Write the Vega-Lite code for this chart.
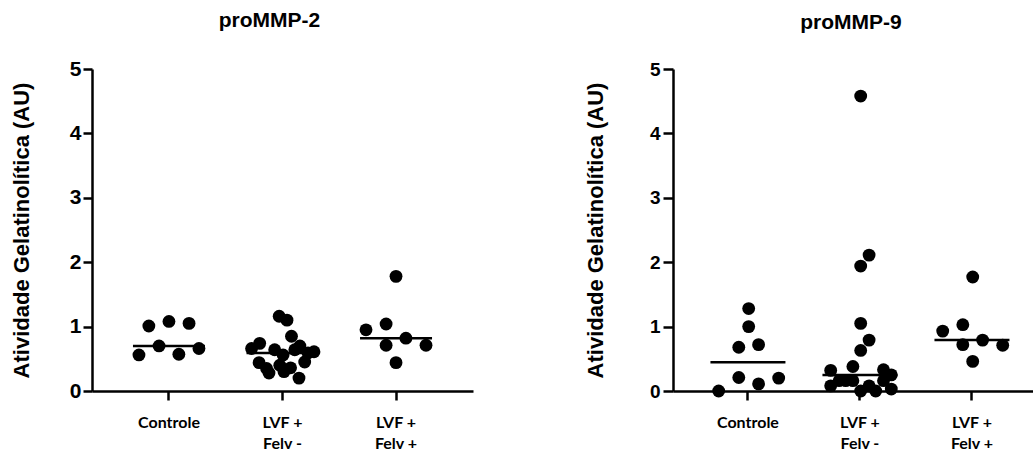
{
  "$schema": "https://vega.github.io/schema/vega-lite/v6.json",
  "background": "white",
  "padding": {"left": 10, "top": 10, "right": 0, "bottom": 0},
  "config": {"view": {"stroke": null}, "concat": {"spacing": 111}},
  "datasets": {
    "d": [
      {"p": "proMMP-2", "g": "Controle", "s": -1, "v": 0.56},
      {"p": "proMMP-2", "g": "Controle", "s": -0.67, "v": 1.01},
      {"p": "proMMP-2", "g": "Controle", "s": -0.33, "v": 0.70},
      {"p": "proMMP-2", "g": "Controle", "s": 0, "v": 1.08},
      {"p": "proMMP-2", "g": "Controle", "s": 0.33, "v": 0.57},
      {"p": "proMMP-2", "g": "Controle", "s": 0.67, "v": 1.05},
      {"p": "proMMP-2", "g": "Controle", "s": 1, "v": 0.66},
      {"p": "proMMP-2", "g": "LVF + Felv -", "s": -0.11, "v": 1.16},
      {"p": "proMMP-2", "g": "LVF + Felv -", "s": 0.15, "v": 1.10},
      {"p": "proMMP-2", "g": "LVF + Felv -", "s": 0.3, "v": 0.85},
      {"p": "proMMP-2", "g": "LVF + Felv -", "s": -1.03, "v": 0.66},
      {"p": "proMMP-2", "g": "LVF + Felv -", "s": -0.76, "v": 0.74},
      {"p": "proMMP-2", "g": "LVF + Felv -", "s": -0.26, "v": 0.64},
      {"p": "proMMP-2", "g": "LVF + Felv -", "s": 0.02, "v": 0.56},
      {"p": "proMMP-2", "g": "LVF + Felv -", "s": 0.58, "v": 0.70},
      {"p": "proMMP-2", "g": "LVF + Felv -", "s": 0.85, "v": 0.59},
      {"p": "proMMP-2", "g": "LVF + Felv -", "s": 1.05, "v": 0.61},
      {"p": "proMMP-2", "g": "LVF + Felv -", "s": -0.78, "v": 0.44},
      {"p": "proMMP-2", "g": "LVF + Felv -", "s": -0.53, "v": 0.35},
      {"p": "proMMP-2", "g": "LVF + Felv -", "s": -0.45, "v": 0.28},
      {"p": "proMMP-2", "g": "LVF + Felv -", "s": -0.09, "v": 0.40},
      {"p": "proMMP-2", "g": "LVF + Felv -", "s": 0.05, "v": 0.30},
      {"p": "proMMP-2", "g": "LVF + Felv -", "s": 0.27, "v": 0.36},
      {"p": "proMMP-2", "g": "LVF + Felv -", "s": 0.55, "v": 0.20},
      {"p": "proMMP-2", "g": "LVF + Felv -", "s": 0.74, "v": 0.45},
      {"p": "proMMP-2", "g": "LVF + Felv -", "s": 0.41, "v": 0.64},
      {"p": "proMMP-2", "g": "LVF + Felv +", "s": -1, "v": 0.95},
      {"p": "proMMP-2", "g": "LVF + Felv +", "s": -0.33, "v": 1.04},
      {"p": "proMMP-2", "g": "LVF + Felv +", "s": -0.33, "v": 0.71},
      {"p": "proMMP-2", "g": "LVF + Felv +", "s": 0, "v": 1.78},
      {"p": "proMMP-2", "g": "LVF + Felv +", "s": 0, "v": 0.44},
      {"p": "proMMP-2", "g": "LVF + Felv +", "s": 0.33, "v": 0.82},
      {"p": "proMMP-2", "g": "LVF + Felv +", "s": 1, "v": 0.71},
      {"p": "proMMP-9", "g": "Controle", "s": -1, "v": 0.0},
      {"p": "proMMP-9", "g": "Controle", "s": -0.33, "v": 0.21},
      {"p": "proMMP-9", "g": "Controle", "s": 0.33, "v": 0.11},
      {"p": "proMMP-9", "g": "Controle", "s": 1, "v": 0.20},
      {"p": "proMMP-9", "g": "Controle", "s": -0.33, "v": 0.68},
      {"p": "proMMP-9", "g": "Controle", "s": 0.33, "v": 0.72},
      {"p": "proMMP-9", "g": "Controle", "s": 0, "v": 1.00},
      {"p": "proMMP-9", "g": "Controle", "s": 0, "v": 1.28},
      {"p": "proMMP-9", "g": "LVF + Felv -", "s": 0, "v": 4.58},
      {"p": "proMMP-9", "g": "LVF + Felv -", "s": 0.28, "v": 2.11},
      {"p": "proMMP-9", "g": "LVF + Felv -", "s": 0, "v": 1.94},
      {"p": "proMMP-9", "g": "LVF + Felv -", "s": 0, "v": 1.05},
      {"p": "proMMP-9", "g": "LVF + Felv -", "s": 0.28, "v": 0.79},
      {"p": "proMMP-9", "g": "LVF + Felv -", "s": 0, "v": 0.63},
      {"p": "proMMP-9", "g": "LVF + Felv -", "s": -1, "v": 0.32},
      {"p": "proMMP-9", "g": "LVF + Felv -", "s": -0.26, "v": 0.38},
      {"p": "proMMP-9", "g": "LVF + Felv -", "s": 0.76, "v": 0.33},
      {"p": "proMMP-9", "g": "LVF + Felv -", "s": 1.02, "v": 0.25},
      {"p": "proMMP-9", "g": "LVF + Felv -", "s": -1, "v": 0.08},
      {"p": "proMMP-9", "g": "LVF + Felv -", "s": -0.72, "v": 0.16},
      {"p": "proMMP-9", "g": "LVF + Felv -", "s": -0.5, "v": 0.16},
      {"p": "proMMP-9", "g": "LVF + Felv -", "s": -0.26, "v": 0.16},
      {"p": "proMMP-9", "g": "LVF + Felv -", "s": 0, "v": 0.0},
      {"p": "proMMP-9", "g": "LVF + Felv -", "s": 0.28, "v": 0.08},
      {"p": "proMMP-9", "g": "LVF + Felv -", "s": 0.5, "v": 0.0},
      {"p": "proMMP-9", "g": "LVF + Felv -", "s": 0.76, "v": 0.16},
      {"p": "proMMP-9", "g": "LVF + Felv -", "s": 1.02, "v": 0.03},
      {"p": "proMMP-9", "g": "LVF + Felv +", "s": -1, "v": 0.93},
      {"p": "proMMP-9", "g": "LVF + Felv +", "s": -0.33, "v": 1.03},
      {"p": "proMMP-9", "g": "LVF + Felv +", "s": -0.33, "v": 0.72},
      {"p": "proMMP-9", "g": "LVF + Felv +", "s": 0, "v": 1.77},
      {"p": "proMMP-9", "g": "LVF + Felv +", "s": 0, "v": 0.46},
      {"p": "proMMP-9", "g": "LVF + Felv +", "s": 0.33, "v": 0.79},
      {"p": "proMMP-9", "g": "LVF + Felv +", "s": 1, "v": 0.71}
    ]
  },
  "hconcat": [
    {
      "width": 381,
      "height": 322,
      "title": {"text": "proMMP-2", "font": "Liberation Sans", "fontSize": 21, "fontWeight": "bold", "color": "black", "dx": -13, "offset": 27},
      "data": {"name": "d"},
      "transform": [{"filter": "datum.p == 'proMMP-2'"}],
      "layer": [
        {
          "mark": {"type": "circle", "size": 165, "color": "black", "opacity": 1},
          "encoding": {
            "x": {"field": "g", "type": "nominal", "sort": ["Controle", "LVF + Felv -", "LVF + Felv +"],
              "scale": {"paddingInner": 0, "paddingOuter": 0.178},
              "axis": {"title": null, "labelAngle": 0, "domainColor": "black", "domainWidth": 2.5, "tickColor": "black", "tickWidth": 2.5, "tickSize": 9,
                "labelFont": "Lato", "labelFontWeight": "bold", "labelFontSize": 16, "labelColor": "black", "labelPadding": 14, "labelLineHeight": 21,
                "labelExpr": "datum.label == 'Controle' ? 'Controle' : [substring(datum.label, 0, 5), substring(datum.label, 6)]"}},
            "xOffset": {"field": "s", "type": "quantitative", "scale": {"domain": [-1, 1], "range": [26.75, 86.75]}},
            "y": {"field": "v", "type": "quantitative", "scale": {"domain": [0, 5], "nice": false},
              "axis": {"title": "Atividade Gelatinolítica (AU)", "values": [0, 1, 2, 3, 4, 5], "format": "d", "grid": false,
                "domainColor": "black", "domainWidth": 2.5, "tickColor": "black", "tickWidth": 2.5, "tickSize": 9,
                "labelFont": "Liberation Sans", "labelFontWeight": "bold", "labelFontSize": 21, "labelColor": "black", "labelPadding": 2,
                "titleFont": "Liberation Sans", "titleFontSize": 22, "titleFontWeight": "bold", "titleColor": "black", "titlePadding": 36}}
          }
        },
        {
          "mark": {"type": "tick", "color": "black", "thickness": 2.5, "size": 72},
          "encoding": {
            "x": {"field": "g", "type": "nominal", "sort": ["Controle", "LVF + Felv -", "LVF + Felv +"]},
            "y": {"aggregate": "median", "field": "v", "type": "quantitative"}
          }
        }
      ]
    },
    {
      "width": 360,
      "height": 322,
      "title": {"text": "proMMP-9", "font": "Liberation Sans", "fontSize": 21, "fontWeight": "bold", "color": "black", "dx": -2, "offset": 27},
      "data": {"name": "d"},
      "transform": [{"filter": "datum.p == 'proMMP-9'"}],
      "layer": [
        {
          "mark": {"type": "circle", "size": 165, "color": "black", "opacity": 1},
          "encoding": {
            "x": {"field": "g", "type": "nominal", "sort": ["Controle", "LVF + Felv -", "LVF + Felv +"],
              "scale": {"paddingInner": 0, "paddingOuter": 0.107, "align": 0.79},
              "axis": {"title": null, "labelAngle": 0, "domainColor": "black", "domainWidth": 2.5, "tickColor": "black", "tickWidth": 2.5, "tickSize": 9,
                "labelFont": "Lato", "labelFontWeight": "bold", "labelFontSize": 16, "labelColor": "black", "labelPadding": 14, "labelLineHeight": 21,
                "labelExpr": "datum.label == 'Controle' ? 'Controle' : [substring(datum.label, 0, 5), substring(datum.label, 6)]"}},
            "xOffset": {"field": "s", "type": "quantitative", "scale": {"domain": [-1, 1], "range": [26, 86]}},
            "y": {"field": "v", "type": "quantitative", "scale": {"domain": [0, 5], "nice": false},
              "axis": {"title": "Atividade Gelatinolítica (AU)", "values": [0, 1, 2, 3, 4, 5], "format": "d", "grid": false,
                "domainColor": "black", "domainWidth": 2.5, "tickColor": "black", "tickWidth": 2.5, "tickSize": 10,
                "labelFont": "Liberation Sans", "labelFontWeight": "bold", "labelFontSize": 19, "labelColor": "black", "labelPadding": 3,
                "titleFont": "Liberation Sans", "titleFontSize": 22, "titleFontWeight": "bold", "titleColor": "black", "titlePadding": 42}}
          }
        },
        {
          "mark": {"type": "tick", "color": "black", "thickness": 2.5, "size": 75},
          "encoding": {
            "x": {"field": "g", "type": "nominal", "sort": ["Controle", "LVF + Felv -", "LVF + Felv +"]},
            "y": {"aggregate": "median", "field": "v", "type": "quantitative"}
          }
        }
      ]
    }
  ]
}
